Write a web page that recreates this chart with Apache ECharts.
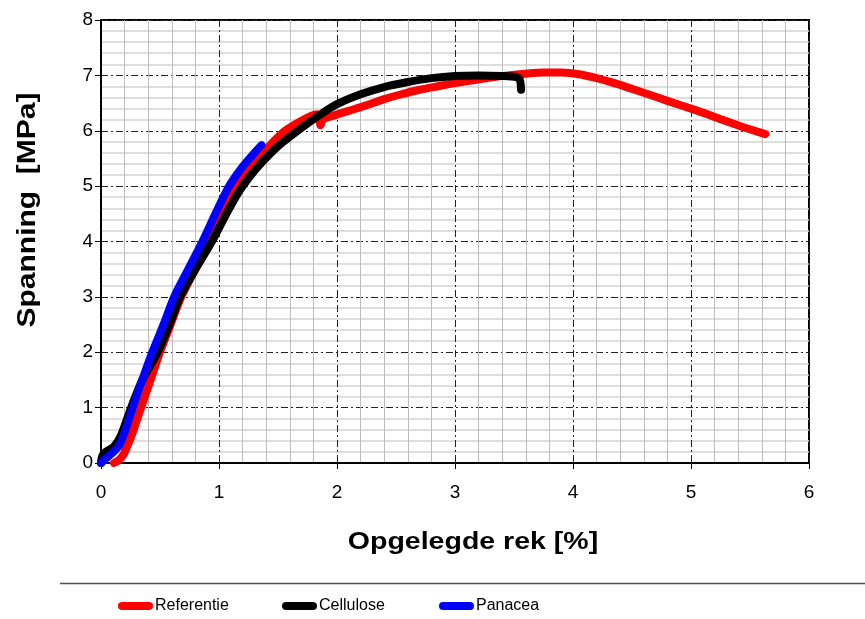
<!DOCTYPE html>
<html>
<head>
<meta charset="utf-8">
<script src="https://cdn.jsdelivr.net/npm/echarts@6/dist/echarts.min.js"></script>
<style>html,body{margin:0;padding:0;background:#fff;}#c{width:865px;height:619px;}</style>
</head>
<body>
<div id="c"></div>
<script>
// Tick labels
var xTicks = [0, 1, 2, 3, 4, 5, 6];
var yTicks = [0, 1, 2, 3, 4, 5, 6, 7, 8];
var seriesNames = ['Referentie', 'Cellulose', 'Panacea'];

// Referentie (red)
var refX = [0.11,0.15,0.19,0.22,0.26,0.30,0.34,0.42,0.50,0.59,0.68,0.80,0.93,1.02,1.12,1.24,1.36,1.46,1.56,1.68,1.78,1.83,1.85,1.86,1.88,1.95,2.10,2.25,2.40,2.53,2.70,2.85,3.00,3.15,3.30,3.45,3.60,3.75,3.90,4.05,4.20,4.35,4.51,4.65,4.80,5.00,5.15,5.30,5.45,5.63];
var refY = [0.00,0.05,0.15,0.29,0.50,0.75,1.00,1.50,2.00,2.50,3.00,3.50,4.00,4.45,4.88,5.25,5.56,5.80,6.00,6.16,6.27,6.30,6.20,6.10,6.20,6.26,6.36,6.46,6.57,6.65,6.74,6.80,6.86,6.91,6.96,7.00,7.03,7.05,7.05,7.02,6.95,6.86,6.75,6.65,6.54,6.40,6.29,6.17,6.06,5.94];

// Cellulose (black)
var celX = [0.00,0.01,0.04,0.11,0.17,0.255,0.35,0.48,0.58,0.67,0.80,0.94,1.05,1.16,1.26,1.36,1.50,1.68,1.85,2.00,2.20,2.40,2.60,2.80,3.00,3.20,3.40,3.52,3.55,3.56];
var celY = [0.00,0.12,0.20,0.30,0.50,1.00,1.50,2.00,2.50,3.00,3.50,4.00,4.45,4.87,5.17,5.42,5.72,6.02,6.28,6.48,6.66,6.79,6.88,6.95,6.99,7.00,6.99,6.97,6.92,6.74];

// Panacea (blue)
var panX = [0.00,0.03,0.08,0.15,0.20,0.27,0.35,0.435,0.53,0.62,0.74,0.86,0.97,1.08,1.20,1.30,1.36];
var panY = [0.00,0.06,0.15,0.30,0.55,1.00,1.50,2.00,2.50,3.00,3.50,4.00,4.50,4.98,5.35,5.60,5.74];

function zip(xs, ys) { return xs.map(function (x, i) { return [x, ys[i]]; }); }

var colors = ['#ff0000', '#000000', '#0000ff'];
var data = [zip(refX, refY), zip(celX, celY), zip(panX, panY)];

var chart = echarts.init(document.getElementById('c'), null, { renderer: 'canvas' });
var capsule = 'path://M4,0 L31,0 A4,4 0 0 1 31,8 L4,8 A4,4 0 0 1 4,0 Z';
var legendLefts = [118, 282, 439];

function mkLegend(i) {
  return {
    data: [{ name: seriesNames[i], icon: capsule }],
    left: legendLefts[i], top: 598, padding: 0,
    itemWidth: 35, itemHeight: 8, itemGap: 0,
    selectedMode: false,
    textStyle: { fontFamily: 'Arial, "Liberation Sans", sans-serif', fontSize: 16, color: '#000', padding: [0, 0, 0, -3] }
  };
}

var majorDash = [7, 3, 2, 3];

chart.setOption({
  animation: false,
  backgroundColor: '#fff',
  grid: { left: 101, top: 20, width: 708, height: 443, show: true, borderColor: '#000', borderWidth: 2, backgroundColor: 'transparent' },
  xAxis: {
    type: 'value', min: xTicks[0], max: xTicks[xTicks.length - 1], interval: 1,
    axisLine: { show: true, lineStyle: { color: '#000', width: 2 } },
    axisTick: { show: true, length: 6, lineStyle: { color: '#000', width: 1 } },
    axisLabel: { margin: 20, fontSize: 19, color: '#000', fontFamily: 'Arial, "Liberation Sans", sans-serif' },
    splitLine: { show: true, lineStyle: { color: '#222', width: 1, type: majorDash } },
    minorTick: { show: false, splitNumber: 5 },
    minorSplitLine: { show: true, lineStyle: { color: '#bdbdbd', width: 1 } }
  },
  yAxis: {
    type: 'value', min: yTicks[0], max: yTicks[yTicks.length - 1], interval: 1,
    axisLine: { show: true, lineStyle: { color: '#000', width: 2 } },
    axisTick: { show: true, length: 6, lineStyle: { color: '#000', width: 1 } },
    axisLabel: { margin: 8, fontSize: 19, color: '#000', fontFamily: 'Arial, "Liberation Sans", sans-serif' },
    splitLine: { show: true, lineStyle: { color: '#222', width: 1, type: majorDash } },
    minorTick: { show: false, splitNumber: 5 },
    minorSplitLine: { show: true, lineStyle: { color: '#d4d4d4', width: 1.5 } }
  },
  legend: [mkLegend(0), mkLegend(1), mkLegend(2)],
  graphic: [
    { type: 'line', shape: { x1: 60, y1: 583.5, x2: 865, y2: 583.5 }, style: { stroke: '#4d4d4d', lineWidth: 1.5 }, silent: true },
    { type: 'text', x: 473, y: 543, scaleX: 1.24, style: { text: 'Opgelegde rek [%]', font: 'bold 23px Arial, "Liberation Sans", sans-serif', fill: '#000', align: 'center', verticalAlign: 'middle' } },
    { type: 'text', x: 28, y: 210, rotation: Math.PI / 2, scaleX: 1.2, style: { text: 'Spanning  [MPa]', font: 'bold 25px Arial, "Liberation Sans", sans-serif', fill: '#000', align: 'center', verticalAlign: 'middle' } }
  ],
  series: seriesNames.map(function (n, i) {
    return {
      name: n, type: 'line', data: data[i], showSymbol: false, symbol: 'none', smooth: 0.25,
      color: colors[i],
      lineStyle: { color: colors[i], width: 8, cap: 'round', join: 'round' },
      z: 2 + i
    };
  })
});
</script>
</body>
</html>
